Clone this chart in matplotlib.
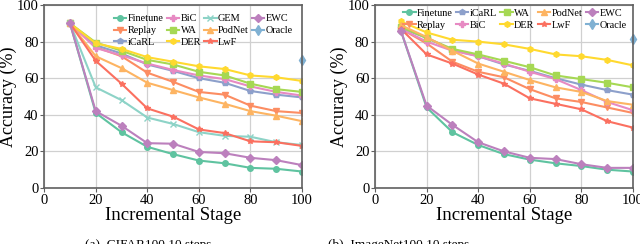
import matplotlib

matplotlib.use("Agg")
import matplotlib.pyplot as plt

plt.rcParams["font.family"] = ["Liberation Serif", "DejaVu Serif"]

STAGES = [10, 20, 30, 40, 50, 60, 70, 80, 90, 100]

# CIFAR100 10 steps
cifar_finetune = [90, 41, 30.5, 22.5, 18.5, 15, 13.5, 11, 10.5, 9]
cifar_replay = [90, 77, 72, 63, 58, 52.5, 51, 45, 42, 41]
cifar_icarl = [90, 78, 73.5, 67.5, 64, 60, 57.5, 53, 51, 49.5]
cifar_bic = [90, 76.5, 72.5, 68, 64.5, 61.5, 59.5, 55.5, 52.5, 50.5]
cifar_wa = [90, 79.5, 75, 70, 67.5, 63.5, 61.5, 57, 54, 52.5]
cifar_der = [90, 79, 76, 71.5, 69, 66.5, 65, 61.5, 60.5, 58.5]
cifar_gem = [90, 55, 48, 38.5, 35, 30.5, 28.5, 28, 25, 23.5]
cifar_podnet = [90, 72, 65.5, 57.5, 53.5, 49.5, 46, 42, 39.5, 36.5]
cifar_lwf = [90, 69.5, 57, 43.5, 39, 32, 30, 25.5, 25, 23]
cifar_ewc = [90, 42, 34, 24.5, 24.2, 19.7, 19, 16.5, 15.2, 12.5]
cifar_oracle = 70

# ImageNet100 10 steps
imnet_finetune = [86, 44, 30.5, 23.5, 18.5, 15.5, 13.5, 12, 10, 9]
imnet_replay = [87, 79, 69, 63.5, 60.5, 54, 49, 47, 44, 41]
imnet_icarl = [87.5, 82, 75.5, 72, 67.5, 64, 60, 56.5, 53.5, 51]
imnet_bic = [87, 80, 75, 72, 68, 63.5, 59.5, 53.5, 47, 42.5]
imnet_wa = [88, 82, 76, 73, 69.5, 66, 61.5, 59.5, 57.5, 55]
imnet_der = [91, 85, 81, 80, 78.5, 76, 73, 72, 70, 67]
imnet_podnet = [89, 82.5, 75, 68, 63.5, 59, 55, 52.5, 47.5, 45.5]
imnet_lwf = [87, 73, 68, 62, 57, 49, 46, 43, 36.5, 33]
imnet_ewc = [86, 45, 34.5, 25, 20, 16.5, 15.8, 13, 11, 11]
imnet_oracle = 81.5

STYLE = {
    "Finetune": ("#5fc3a0", "o"),
    "Replay": ("#fc8d62", "v"),
    "iCaRL": ("#8da0cb", "p"),
    "BiC": ("#e78ac3", "P"),
    "WA": ("#a6d854", "s"),
    "DER": ("#ffd92f", "h"),
    "GEM": ("#8dd3c7", "x"),
    "PodNet": ("#fdb462", "^"),
    "LwF": ("#fb7060", "*"),
    "EWC": ("#bc80bd", "D"),
    "Oracle": ("#80b1d3", "d"),
}


def draw(ax, series, oracle, ncol, anchor):
    for name, vals in series:
        colour, marker = STYLE[name]
        ax.plot(STAGES, vals, color=colour, marker=marker, lw=1.5, ms=4,
                label=name)
    colour, marker = STYLE["Oracle"]
    ax.plot([100], [oracle], color=colour, marker=marker, lw=1.5, ms=5,
            label="Oracle", clip_on=False)
    ax.set_xlim(0, 100)
    ax.set_ylim(0, 100)
    ax.set_xticks(range(0, 101, 20))
    ax.set_yticks(range(0, 101, 20))
    ax.grid(True, color="#d0d0d0", lw=0.9)
    ax.set_axisbelow(True)
    for s in ax.spines.values():
        s.set_color("#606060")
        s.set_linewidth(1.2)
    ax.tick_params(labelsize=10.5, length=3, color="#606060", pad=1)
    ax.set_xlabel("Incremental Stage", fontsize=13.5, labelpad=0)
    ax.set_ylabel("Accuracy (%)", fontsize=13, labelpad=0)
    ax.legend(ncol=ncol, loc="upper right", bbox_to_anchor=anchor,
              frameon=False, fontsize=7.4, handlelength=1.2,
              handletextpad=0.15, columnspacing=0.3, labelspacing=0.25,
              borderaxespad=0, borderpad=0)


fig = plt.figure(figsize=(6.4, 2.44), dpi=100)
ax_a = fig.add_axes([0.069, 0.2295, 0.403, 0.75])
ax_b = fig.add_axes([0.586, 0.2295, 0.403, 0.75])

draw(ax_a, [
    ("Finetune", cifar_finetune), ("Replay", cifar_replay),
    ("iCaRL", cifar_icarl), ("BiC", cifar_bic), ("WA", cifar_wa),
    ("DER", cifar_der), ("GEM", cifar_gem), ("PodNet", cifar_podnet),
    ("LwF", cifar_lwf), ("EWC", cifar_ewc),
], cifar_oracle, 4, (0.965, 0.95))

draw(ax_b, [
    ("Finetune", imnet_finetune), ("Replay", imnet_replay),
    ("iCaRL", imnet_icarl), ("BiC", imnet_bic), ("WA", imnet_wa),
    ("DER", imnet_der), ("PodNet", imnet_podnet), ("LwF", imnet_lwf),
    ("EWC", imnet_ewc),
], imnet_oracle, 5, (0.975, 0.98))

fig.text(85 / 640, 1 - 239 / 244, "(a)  CIFAR100 10 steps", ha="left",
         va="top", fontsize=9.5)
fig.text(328 / 640, 1 - 239 / 244, "(b)  ImageNet100 10 steps", ha="left",
         va="top", fontsize=9.5)

fig.savefig("out.png", dpi=100)
